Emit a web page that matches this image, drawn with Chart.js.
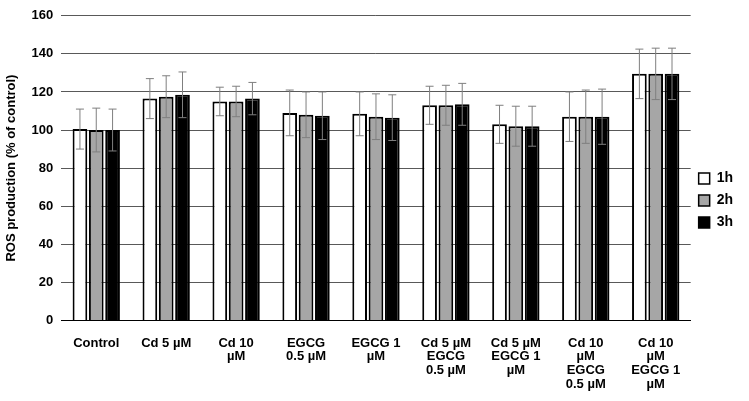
<!DOCTYPE html><html><head><script src="https://cdn.jsdelivr.net/npm/chart.js@4"></script>
<style>body{margin:0;background:#fff}#w{width:749px;height:401px}</style></head><body><div id="w"><canvas id="c"></canvas></div>
<script>
const categories=[["Control"],["Cd 5 µM"],["Cd 10","µM"],["EGCG","0.5 µM"],["EGCG 1","µM"],["Cd 5 µM","EGCG","0.5 µM"],["Cd 5 µM","EGCG 1","µM"],["Cd 10","µM","EGCG","0.5 µM"],["Cd 10","µM","EGCG 1","µM"]];
const seriesNames=["1h","2h","3h"];
const v1h=[100.5,116.5,115,109,108.5,113,103,107,129.5];
const v2h=[100,117.5,115,108,107,113,102,107,129.5];
const v3h=[100,118.5,116.5,107.5,106.5,113.5,102,107,129.5];
const e1h=[10.5,10.5,7.5,12,11.5,10,10,13,13];
const e2h=[11.5,11,8,12,12,10.5,10.5,14,13.5];
const e3h=[11,12,8.5,12.5,12,11,10.5,14.5,13.5];
const fills=["#ffffff","#a6a6a6","#000000"];
const vals=[v1h,v2h,v3h],errs=[e1h,e2h,e3h];
const errPlugin={id:"err",afterDatasetsDraw(ch){const c=ch.ctx,y=ch.scales.y;c.save();c.strokeStyle="#7f7f7f";c.lineWidth=1;
ch.data.datasets.forEach((d,i)=>{ch.getDatasetMeta(i).data.forEach((b,j)=>{const v=vals[i][j],e=errs[i][j];const t=y.getPixelForValue(v+e),bt=y.getPixelForValue(v-e);c.beginPath();c.moveTo(b.x,t);c.lineTo(b.x,bt);c.moveTo(b.x-4,t);c.lineTo(b.x+4,t);c.moveTo(b.x-4,bt);c.lineTo(b.x+4,bt);c.stroke();});});c.restore();}};
Chart.defaults.font.family="Arial, Liberation Sans, sans-serif";Chart.defaults.font.weight="bold";Chart.defaults.color="#000";
new Chart(document.getElementById("c"),{type:"bar",data:{labels:categories,datasets:seriesNames.map((n,i)=>({label:n,data:vals[i],backgroundColor:fills[i],borderColor:"#000",borderWidth:2,categoryPercentage:0.7,barPercentage:0.9}))},
options:{responsive:true,maintainAspectRatio:false,animation:false,layout:{padding:{top:2,right:6,left:0,bottom:2}},
plugins:{tooltip:{enabled:false},legend:{position:"right",labels:{boxWidth:11,boxHeight:11,font:{size:14,weight:"bold"},padding:8,generateLabels:()=>seriesNames.map((n,i)=>({text:n,fillStyle:fills[i],strokeStyle:"#000",lineWidth:1.5}))}}},
scales:{x:{grid:{display:false},border:{color:"#000",width:1},ticks:{font:{size:13,weight:"bold",lineHeight:1.05},maxRotation:0,autoSkip:false,padding:8}},
y:{min:0,max:160,ticks:{stepSize:20,font:{size:13,weight:"bold"},padding:8},grid:{color:"#595959",drawTicks:false},border:{display:false},title:{display:true,text:"ROS production (% of control)",font:{size:13,weight:"bold"}}}}},plugins:[errPlugin]});
</script></body></html>
